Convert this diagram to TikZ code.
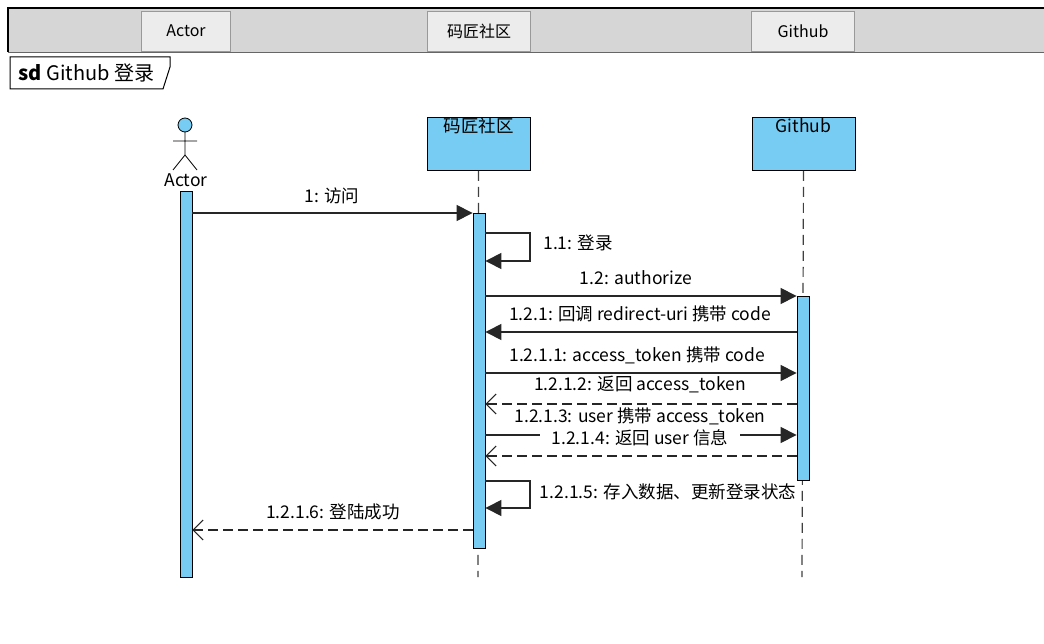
\documentclass[tikz,border=0pt]{standalone}
\usepackage{fontspec}
\setmainfont{Noto Sans CJK SC}
\usetikzlibrary{arrows.meta, positioning}
\definecolor{lifeblue}{RGB}{118, 204, 242}
\definecolor{bandgrey}{RGB}{214, 214, 214}
\definecolor{tabgrey}{RGB}{236, 236, 236}

\begin{document}
\begin{tikzpicture}[
    x=1pt, y=-1pt,
    font=\fontsize{17.5}{20}\selectfont,
    tab/.style={draw=black!40, fill=tabgrey, minimum width=89pt, minimum height=40pt, inner sep=0pt},
    head/.style={draw, thick, fill=lifeblue, minimum width=103pt, minimum height=53pt, anchor=north, inner sep=0pt},
    bar/.style={draw, thick, fill=lifeblue},
    life/.style={dash pattern=on 10pt off 6pt, line width=1.2pt, black!75},
    msg/.style={-{Triangle[length=16pt, width=16pt]}, line width=1.1pt, black!85},
    reply/.style={-{Straight Barb[length=10pt, width=20pt]}, line width=1.1pt, dash pattern=on 10pt off 5pt, black!85},
    lbl/.style={fill=white, inner sep=1pt},
  ]
    \useasboundingbox (0,0) rectangle (1044,644);
    % Header band
    \fill[bandgrey] (8,8) rectangle (1044,52);
    \draw[line width=1.5pt] (8,52) -- (8,8) -- (1044,8);
    \draw[black!60] (8,52) -- (1044,52);
    \node[tab, font=\fontsize{16}{18}\selectfont] (tabactor) at (186,31) {Actor};
    \node[tab, minimum width=103pt, font=\fontsize{16}{18}\selectfont] (tabmj) at (479,31) {码匠社区};
    \node[tab, minimum width=103pt, font=\fontsize{16}{18}\selectfont] (tabgh) at (803,31) {Github};

    % Frame label
    \draw[fill=white, line width=1pt] (10,57) -- (170,57) -- (170,67) -- (163,89) -- (10,89) -- cycle;
    \node[anchor=west, font=\fontsize{20}{22}\selectfont] (sd) at (15,73) {\textbf{sd} Github 登录};

    % Actor
    \draw[thick, fill=lifeblue] (185,125) circle (7);
    \draw[thick] (185,132) -- (185,155) (173,141) -- (197,141)
          (173,170) -- (185,155) -- (197,170);
    \node (actor) at (186,180) {Actor};

    % Lifelines
    \node[head] (mj) at (478.5,117) {};
    \node[anchor=north, inner sep=1pt] at (mj.north) {码匠社区};
    \node[head] (gh) at (803.5,117) {};
    \node[anchor=north, inner sep=1pt] at (gh.north) {Github};
    \draw[life] (mj.south) -- (478,577);
    \draw[life] (gh.south) -- (802,577);

    % Activations
    \node[bar, minimum width=12pt, minimum height=386pt, inner sep=0pt, anchor=north] (actbar) at (186,191) {};
    \node[bar, minimum width=12pt, minimum height=335pt, inner sep=0pt, anchor=north] (mjbar) at (479,213) {};
    \node[bar, minimum width=12pt, minimum height=184pt, inner sep=0pt, anchor=north] (ghbar) at (803,296) {};

    % Messages
    \draw[msg] (actbar.east |- 0,213) -- (mjbar.west |- 0,213);
    \node (m1) at (332,196) {1: 访问};

    \draw[msg] (mjbar.east |- 0,233) -- (530,233) -- (530,261) -- (mjbar.east |- 0,261);
    \node (m11) at (578,243) {1.1: 登录};

    \draw[msg] (mjbar.east |- 0,296) -- (ghbar.west |- 0,296);
    \node (m12) at (636,278) {1.2: authorize};

    \draw[msg] (ghbar.west |- 0,332) -- (mjbar.east |- 0,332);
    \node (m121) at (640,314) {1.2.1: 回调 redirect-uri 携带 code};

    \draw[msg] (mjbar.east |- 0,373) -- (ghbar.west |- 0,373);
    \node (m1211) at (637,355) {1.2.1.1: access\_token 携带 code};

    \draw[reply] (ghbar.west |- 0,404) -- (mjbar.east |- 0,404);
    \node (m1212) at (640,385) {1.2.1.2: 返回 access\_token};

    \draw[msg] (mjbar.east |- 0,435) -- (ghbar.west |- 0,435);
    \node[lbl] (m1213) at (640,416) {1.2.1.3: user 携带 access\_token};
    \node[lbl, inner xsep=12pt] (m1214) at (640,438) {1.2.1.4: 返回 user 信息};

    \draw[reply] (ghbar.west |- 0,456) -- (mjbar.east |- 0,456);

    \draw[msg] (mjbar.east |- 0,481) -- (530,481) -- (530,508) -- (mjbar.east |- 0,508);
    \node[lbl] (m1215) at (668,492) {1.2.1.5: 存入数据、更新登录状态};

    \draw[reply] (mjbar.west |- 0,530) -- (actbar.east |- 0,530);
    \node (m1216) at (333,512) {1.2.1.6: 登陆成功};
\end{tikzpicture}
\end{document}
